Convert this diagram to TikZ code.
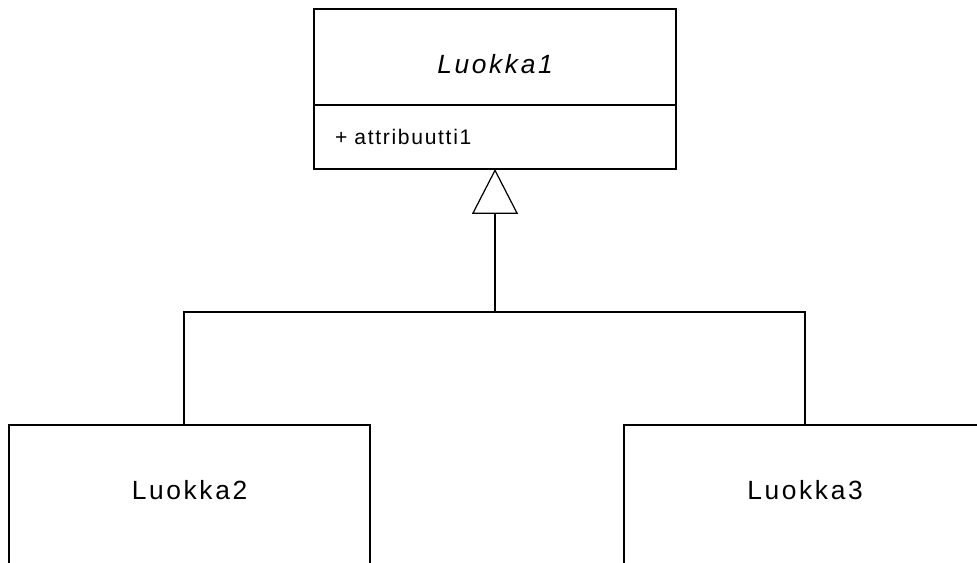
\documentclass[tikz,border=0pt]{standalone}
\usepackage{fontspec}
\setmainfont{Liberation Sans}
\newfontfamily\luokkaFont[LetterSpace=10]{Liberation Sans}
\newfontfamily\attrFont[LetterSpace=8]{Liberation Sans}
\usetikzlibrary{positioning,arrows.meta}

\begin{document}
\begin{tikzpicture}[x=0.02cm, y=-0.02cm, line width=0.7pt,
    luokka/.style={draw, outer sep=0pt, minimum width=7.22cm,
        font=\luokkaFont\fontsize{15}{18}\selectfont},
    nimiosa/.style={luokka, minimum width=7.24cm, minimum height=1.92cm,
        text height=0.66cm, text depth=0pt,
        font=\luokkaFont\itshape\fontsize{15}{18}\selectfont},
    attrosa/.style={draw, outer sep=0pt, minimum height=1.28cm,
        inner xsep=0.42cm, text width=6.4cm, align=left,
        font=\attrFont\fontsize{12}{14}\selectfont},
    aliluokka/.style={luokka, anchor=north, minimum height=4cm,
        text height=0.38cm, text depth=1.40cm},
    periytys/.style={-{Triangle[open, length=0.9cm, width=0.92cm]}}]

    \useasboundingbox (0,0) rectangle (977,562);
    \clip (0,0) rectangle (977,562);

    % yliluokka
    \node[nimiosa] (luokka1) at (495,57) {Luokka1};
    \node[attrosa, below=0pt of luokka1] (attr1) {+ attribuutti1};

    % aliluokat
    \node[aliluokka] (luokka2) at (189.5,425) {Luokka2};
    \node[aliluokka, minimum width=7.24cm] (luokka3) at (805,425) {Luokka3};

    \coordinate (haara) at (495,312);

    \draw ([xshift=-0.11cm]luokka2.north) |- (haara) -| (luokka3.north);
    \draw[periytys] (haara) -- (attr1.south);

\end{tikzpicture}
\end{document}
